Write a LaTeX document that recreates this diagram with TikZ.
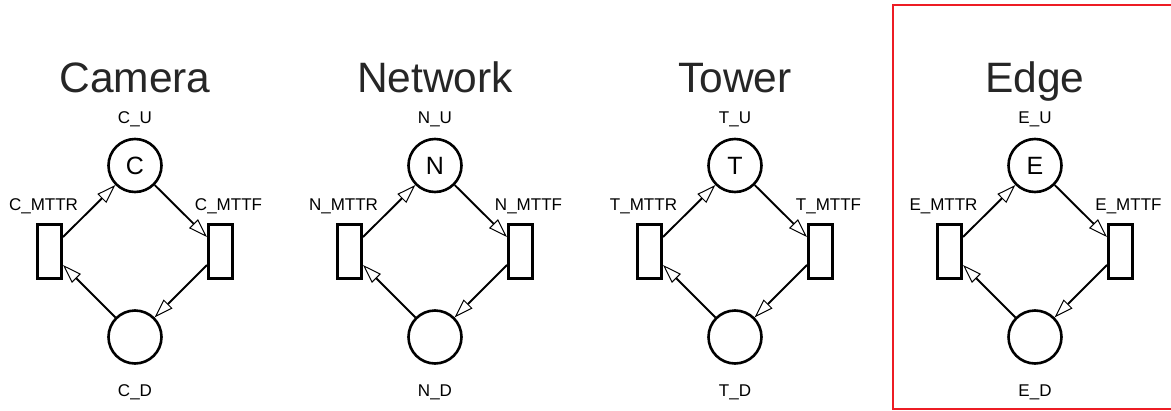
\documentclass[tikz,border=0pt]{standalone}
\usepackage{fontspec}
\setmainfont{Liberation Sans}
\usetikzlibrary{arrows.meta,calc}
\definecolor{boxred}{RGB}{237,28,36}
\tikzset{
  place/.style={circle, draw, line width=2.6pt, minimum size=53pt, inner sep=0pt,
    font=\fontsize{25}{25}\selectfont},
  trans/.style={rectangle, draw, line width=2.6pt, minimum width=24.4pt,
    minimum height=54.4pt, inner sep=0pt},
  arc/.style={line width=1.9pt, -{Triangle[open, length=19pt, width=12.5pt, line width=1pt]}},
  title/.style={font=\fontsize{42.5}{42.5}\selectfont, anchor=base, text=black!85},
  lbl/.style={font=\fontsize{17}{17}\selectfont, anchor=base},
}
\begin{document}
\begin{tikzpicture}[x=1pt, y=-1pt]
  \clip (0,0) rectangle (1171,410);
  \fill[white] (0,0) rectangle (1171,410);

  \foreach \i/\t/\n in {0/Camera/C, 1/Network/N, 2/Tower/T, 3/Edge/E} {
    \pgfmathsetmacro{\x}{300*\i}
    % component name
    \node[title] (\n-title) at (135+\x, 92) {\t};
    % places: up and down
    \node[place] (\n-up)   at (135+\x, 165.5) {\n};
    \node[place] (\n-down) at (135+\x, 337) {};
    % transitions: repair (left) and failure (right)
    \node[trans] (\n-r) at (49.5+\x, 251.5) {};
    \node[trans] (\n-f) at (220.5+\x, 251.5) {};
    % labels
    \node[lbl] (\n-ul) at (135+\x, 123) {\n\_U};
    \node[lbl] (\n-dl) at (135+\x, 396) {\n\_D};
    \node[lbl] (\n-rl) at (43.5+\x, 210.7) {\n\_MTTR};
    \node[lbl] (\n-fl) at (228.5+\x, 210.7) {\n\_MTTF};
    % arcs
    \draw[arc] ($(\n-r.east)+(0,-14.5)$) -- (\n-up);
    \draw[arc] (\n-up) -- ($(\n-f.west)+(0,-14.5)$);
    \draw[arc] ($(\n-f.west)+(0,13.5)$) -- (\n-down);
    \draw[arc] (\n-down) -- ($(\n-r.east)+(0,13.5)$);
  }

  % highlight frame around the edge component
  \draw[boxred, line width=2pt] (893,5) rectangle (1176,408.7);
\end{tikzpicture}
\end{document}
